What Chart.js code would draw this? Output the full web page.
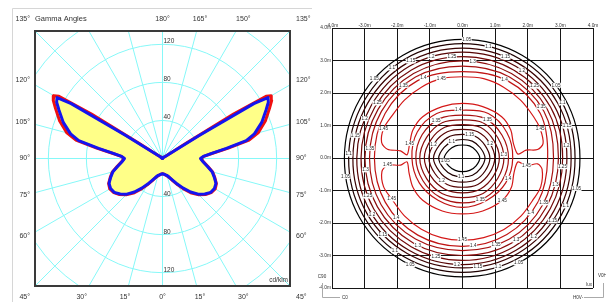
<!DOCTYPE html>
<html>
<head>
<meta charset="utf-8">
<title>Photometric diagrams</title>
<script src="https://cdn.jsdelivr.net/npm/chart.js@4.4.1/dist/chart.umd.min.js"></script>
<style>
  html, body { margin: 0; padding: 0; background: #fff; }
  #wrap { position: relative; width: 606px; height: 302px; overflow: hidden; }
  #polar { position: absolute; left: 0; top: 0; width: 312px; height: 302px; }
  #isolux { position: absolute; left: 312px; top: 0; width: 294px; height: 302px; }
</style>
</head>
<body>
<div id="wrap">
  <canvas id="polar" width="312" height="302"></canvas>
  <canvas id="isolux" width="294" height="302"></canvas>
</div>
<script>
const FONT = '"Liberation Sans", Arial, sans-serif';
Chart.defaults.font.family = FONT;

// ---------- left: intensity distribution (cd/klm) ----------
const gammaDeg = [0, 5, 10, 15, 20, 25, 30, 35, 40, 45, 50, 55, 60, 65, 70, 75, 80, 85, 90,
  93, 96, 99, 102, 105, 110, 115, 118, 120, 121, 122, 123, 125, 130, 140, 150, 165, 180];
const planeC0C180 = [16, 16.5, 17.5, 19, 21.5, 26, 32, 39.5, 47.5, 54, 59, 62.5, 64, 62.5, 58.5, 54.5, 48.5, 43.5, 40.5,
  43.5, 53, 70, 93, 104, 115, 124, 130, 132, 127, 88, 30, 7, 3, 1.5, 0.8, 0.3, 0];
const planeC90C270 = [16, 16.5, 17.5, 18.5, 21, 25, 31, 38, 46, 53, 58, 62, 63, 62, 58, 54, 48, 43, 40,
  43, 52, 68, 90, 100, 111, 120, 126, 128, 112, 45, 12, 4, 2, 1, 0.5, 0.2, 0];
const ringValues = [40, 80, 120, 160];
const ringLabelValues = [40, 80, 120];
const sideGammaLabels = [120, 105, 90, 75, 60];
const topGammaLabels = [180, 165, 150];
const bottomGammaLabels = [-30, -15, 0, 15, 30];

// gamma measured from nadir; right half is the 0 side, left half mirrored
function planeToXY(values) {
  const pts = [];
  for (let i = gammaDeg.length - 1; i >= 0; i--) {
    const g = gammaDeg[i] * Math.PI / 180;
    pts.push({x: -values[i] * Math.sin(g), y: -values[i] * Math.cos(g)});
  }
  for (let i = 1; i < gammaDeg.length; i++) {
    const g = gammaDeg[i] * Math.PI / 180;
    pts.push({x: values[i] * Math.sin(g), y: -values[i] * Math.cos(g)});
  }
  return pts;
}

const polarGrid = {
  id: 'polarGrid',
  beforeDatasetsDraw(chart) {
    const {ctx, chartArea: a, scales: {x, y}} = chart;
    const cx = x.getPixelForValue(0), cy = y.getPixelForValue(0);
    ctx.save();
    ctx.beginPath();
    ctx.rect(a.left, a.top, a.right - a.left, a.bottom - a.top);
    ctx.clip();
    ctx.strokeStyle = '#86f8f8';
    ctx.lineWidth = 1;
    ringValues.forEach(v => {
      ctx.beginPath();
      ctx.arc(cx, cy, x.getPixelForValue(v) - cx, 0, Math.PI * 2);
      ctx.stroke();
    });
    for (let g = 0; g < 360; g += 15) {
      const t = g * Math.PI / 180;
      ctx.beginPath();
      ctx.moveTo(cx, cy);
      ctx.lineTo(x.getPixelForValue(300 * Math.sin(t)), y.getPixelForValue(-300 * Math.cos(t)));
      ctx.stroke();
    }
    ctx.restore();
  },
  afterDatasetsDraw(chart) {
    const {ctx, chartArea: a, scales: {x, y}} = chart;
    const cx = x.getPixelForValue(0), cy = y.getPixelForValue(0);
    const deg = '\u00b0';
    ctx.save();
    // panel border
    ctx.strokeStyle = '#d6d6d6';
    ctx.lineWidth = 1;
    ctx.beginPath();
    ctx.moveTo(12.5, chart.height);
    ctx.lineTo(12.5, 8.5);
    ctx.lineTo(chart.width, 8.5);
    ctx.stroke();
    // plot frame
    ctx.strokeStyle = '#3a3a3a';
    ctx.lineWidth = 2;
    ctx.strokeRect(a.left, a.top, a.right - a.left, a.bottom - a.top);

    ctx.fillStyle = '#333';
    ctx.font = '6.5px ' + FONT;
    ctx.textAlign = 'left';
    ctx.textBaseline = 'alphabetic';
    ringLabelValues.forEach(v => {
      ctx.fillText(String(v), cx + 1, y.getPixelForValue(v) - 1);
      ctx.fillText(String(v), cx + 1, y.getPixelForValue(-v) - 1);
    });

    ctx.font = '7px ' + FONT;
    ctx.textBaseline = 'middle';
    const topY = a.top - 12, botY = a.bottom + 11;
    sideGammaLabels.forEach(g => {
      const py = cy - 135 * Math.tan((g - 90) * Math.PI / 180);
      ctx.textAlign = 'right';
      ctx.fillText(g + deg, a.left - 5, py);
      ctx.textAlign = 'left';
      ctx.fillText(g + deg, a.right + 6, py);
    });
    ctx.textAlign = 'right';
    ctx.fillText('135' + deg, a.left - 5, topY);
    ctx.fillText('45' + deg, a.left - 5, botY);
    ctx.textAlign = 'left';
    ctx.fillText('135' + deg, a.right + 6, topY);
    ctx.fillText('45' + deg, a.right + 6, botY);
    ctx.textAlign = 'center';
    topGammaLabels.forEach(g => {
      ctx.fillText(g + deg, cx + 140 * Math.tan((180 - g) * Math.PI / 180), topY);
    });
    bottomGammaLabels.forEach(g => {
      ctx.fillText(Math.abs(g) + deg, cx + 140 * Math.tan(g * Math.PI / 180), botY);
    });
    ctx.textAlign = 'left';
    ctx.font = '7.5px ' + FONT;
    ctx.fillText('Gamma Angles', a.left, topY);
    ctx.textAlign = 'right';
    ctx.font = '6.5px ' + FONT;
    ctx.fillText('cd/klm', a.right - 2, a.bottom - 6);
    ctx.restore();
  }
};

new Chart(document.getElementById('polar'), {
  type: 'line',
  data: {
    datasets: [
      {
        label: 'C90-C270',
        data: planeToXY(planeC90C270),
        borderColor: '#1414f0',
        borderWidth: 3,
        pointRadius: 0,
        tension: 0,
        borderJoinStyle: 'round',
        fill: false
      },
      {
        label: 'C0-C180',
        data: planeToXY(planeC0C180),
        borderColor: '#f01010',
        borderWidth: 3,
        pointRadius: 0,
        tension: 0,
        borderJoinStyle: 'round',
        fill: 'shape',
        backgroundColor: '#ffff88'
      }
    ]
  },
  options: {
    responsive: false,
    animation: false,
    events: [],
    layout: {padding: {left: 35, right: 22, top: 31, bottom: 16}},
    scales: {
      x: {type: 'linear', min: -134, max: 134, display: false},
      y: {type: 'linear', min: -134, max: 134, display: false}
    },
    plugins: {legend: {display: false}, tooltip: {enabled: false}}
  },
  plugins: [polarGrid]
});

// ---------- right: contour diagram, metres ----------
const contourLevels = ['1.05', '1.1', '1.15', '1.2', '1.25', '1.3', '1.35', '1.4', '1.45'];
const contourColors = ['#000000', '#1e0000', '#3a0202', '#560404', '#720808', '#8c0c0c', '#a81010', '#c01414', '#d41818'];
const axisTicks = [-4, -3, -2, -1, 0, 1, 2, 3, 4];
const sampleAngles = [0, 30, 60, 90, 120, 150, 180, 210, 240, 270, 300, 330];
// outer rings, 1.05 .. 1.4
const outerRadii = [
  [3.60, 3.63, 3.65, 3.65, 3.65, 3.63, 3.62, 3.65, 3.66, 3.66, 3.66, 3.64],
  [3.45, 3.50, 3.52, 3.52, 3.52, 3.49, 3.49, 3.52, 3.53, 3.52, 3.53, 3.50],
  [3.33, 3.37, 3.38, 3.38, 3.38, 3.36, 3.36, 3.39, 3.39, 3.38, 3.39, 3.37],
  [3.20, 3.24, 3.26, 3.26, 3.26, 3.23, 3.24, 3.27, 3.28, 3.28, 3.28, 3.24],
  [3.07, 3.12, 3.13, 3.12, 3.13, 3.11, 3.11, 3.14, 3.15, 3.15, 3.15, 3.11],
  [2.94, 3.00, 3.00, 2.99, 3.00, 2.99, 2.99, 3.01, 3.02, 3.00, 3.02, 2.98],
  [2.79, 2.88, 2.88, 2.83, 2.88, 2.87, 2.85, 2.88, 2.88, 2.85, 2.88, 2.85],
  [2.61, 2.75, 2.75, 2.66, 2.75, 2.74, 2.70, 2.73, 2.74, 2.72, 2.72, 2.68]
];
// central nest, 1.05 .. 1.4
const innerRadii = [
  [0.53, 0.47, 0.43, 0.40, 0.43, 0.48, 0.56, 0.49, 0.44, 0.42, 0.44, 0.48],
  [0.69, 0.63, 0.60, 0.57, 0.60, 0.65, 0.73, 0.66, 0.61, 0.58, 0.61, 0.64],
  [0.84, 0.79, 0.77, 0.73, 0.77, 0.81, 0.89, 0.82, 0.78, 0.74, 0.78, 0.80],
  [0.99, 0.95, 0.93, 0.88, 0.93, 0.97, 1.03, 0.97, 0.94, 0.90, 0.94, 0.95],
  [1.13, 1.10, 1.09, 1.03, 1.09, 1.12, 1.17, 1.12, 1.10, 1.07, 1.10, 1.10],
  [1.27, 1.25, 1.25, 1.17, 1.25, 1.27, 1.31, 1.27, 1.26, 1.22, 1.26, 1.25],
  [1.41, 1.40, 1.40, 1.32, 1.40, 1.43, 1.43, 1.40, 1.39, 1.38, 1.40, 1.40],
  [1.54, 1.57, 1.58, 1.47, 1.58, 1.60, 1.55, 1.53, 1.50, 1.52, 1.50, 1.53]
];
// 1.45 crescents (upper / lower)
const upper145X = [-1.70, -1.90, -2.30, -2.48, -2.42, -2.18, -1.78, -1.26, -0.65, 0, 0.65, 1.26, 1.78, 2.18, 2.38, 2.47, 2.30, 1.95, 1.70,
  1.56, 1.48, 1.20, 0.62, 0, -0.62, -1.22, -1.52, -1.62];
const upper145Y = [0.10, 0.22, 0.27, 0.48, 0.90, 1.27, 1.78, 2.18, 2.44, 2.50, 2.44, 2.18, 1.78, 1.27, 0.90, 0.45, 0.26, 0.24, 0.12,
  0.45, 0.86, 1.27, 1.58, 1.68, 1.58, 1.27, 0.86, 0.45];
const lower145X = [-1.70, -1.90, -2.30, -2.47, -2.42, -2.17, -1.78, -1.26, -0.65, 0, 0.65, 1.27, 1.79, 2.18, 2.40, 2.44, 2.30, 1.96, 1.70,
  1.58, 1.50, 1.22, 0.62, 0, -0.62, -1.22, -1.52, -1.64];
const lower145Y = [-0.12, -0.22, -0.22, -0.42, -0.88, -1.26, -1.78, -2.19, -2.45, -2.53, -2.45, -2.20, -1.79, -1.26, -0.88, -0.35, -0.18, -0.24, -0.12,
  -0.45, -0.90, -1.30, -1.63, -1.72, -1.63, -1.30, -0.90, -0.45];
// where the level values are written: [level index, angle]
const outerTagSpots = [[0, 88], [0, 138], [0, 189], [0, 244], [0, 298], [0, 345], [0, 38],
  [1, 77], [1, 128], [1, 178], [1, 234], [1, 288], [1, 335], [1, 29],
  [2, 67], [2, 118], [2, 168], [2, 224], [2, 278], [2, 325], [2, 17],
  [3, 56], [3, 107], [3, 158], [3, 212], [3, 267], [3, 312], [3, 7],
  [4, 96], [4, 147], [4, 202], [4, 255], [4, 355], [4, 45],
  [5, 84], [5, 187], [5, 243], [5, 303], [5, 344],
  [6, 129], [6, 174], [6, 291], [6, 331], [6, 33],
  [7, 116], [7, 62], [7, 222], [7, 277], [7, 321]];
const innerTagSpots = [[0, 190], [1, 123], [1, 266], [2, 73], [3, 155], [3, 28], [3, 228],
  [5, 4], [6, 125], [6, 57], [6, 293], [7, 95], [7, 336]];
const upperTagPoints = [4, 8, 14, 27];
const lowerTagPoints = [2, 5, 9, 17, 21];

function ringPoints(radii) {
  return radii.map((r, i) => {
    const t = sampleAngles[i] * Math.PI / 180;
    return {x: r * Math.cos(t), y: r * Math.sin(t)};
  });
}
function radiusAt(radii, angle) {
  const step = 360 / radii.length;
  const i = Math.floor(angle / step) % radii.length;
  const f = (angle - i * step) / step;
  return radii[i] * (1 - f) + radii[(i + 1) % radii.length] * f;
}

const isoDatasets = [];
outerRadii.forEach((radii, k) => isoDatasets.push({
  label: contourLevels[k], data: ringPoints(radii), borderColor: contourColors[k], closed: true, tension: 0.35
}));
innerRadii.forEach((radii, k) => isoDatasets.push({
  label: contourLevels[k], data: ringPoints(radii), borderColor: contourColors[k], closed: true, tension: 0.35
}));
isoDatasets.push({label: '1.45', data: upper145X.map((v, i) => ({x: v, y: upper145Y[i]})), borderColor: contourColors[8], closed: true, tension: 0.3});
isoDatasets.push({label: '1.45', data: lower145X.map((v, i) => ({x: v, y: lower145Y[i]})), borderColor: contourColors[8], closed: true, tension: 0.3});
isoDatasets.forEach(ds => Object.assign(ds, {borderWidth: 1.2, pointRadius: 0, fill: false}));

const isoDecor = {
  id: 'isoDecor',
  afterDatasetsUpdate(chart) {
    // make the contour lines closed loops
    chart.data.datasets.forEach((ds, i) => {
      if (!ds.closed) return;
      const line = chart.getDatasetMeta(i).dataset;
      line._loop = true;
      line._fullLoop = true;
      line._pointsUpdated = false;
      delete line._segments;
      delete line._path;
    });
  },
  afterDatasetsDraw(chart) {
    const {ctx, chartArea: a, scales: {x, y}} = chart;
    ctx.save();
    ctx.fillStyle = '#333';
    ctx.font = '4.8px ' + FONT;
    ctx.textAlign = 'center';
    ctx.textBaseline = 'alphabetic';
    axisTicks.forEach(v => ctx.fillText(v.toFixed(1) + 'm', x.getPixelForValue(v), a.top - 1.5));
    ctx.textAlign = 'right';
    ctx.textBaseline = 'middle';
    axisTicks.forEach(v => ctx.fillText(v.toFixed(1) + 'm', a.left - 1, y.getPixelForValue(v)));

    ctx.font = '4.6px ' + FONT;
    ctx.textAlign = 'center';
    const tag = (text, vx, vy) => {
      const px = x.getPixelForValue(vx), py = y.getPixelForValue(vy);
      const w = ctx.measureText(text).width;
      ctx.fillStyle = '#fff';
      ctx.fillRect(px - w / 2 - 0.5, py - 2.5, w + 1, 5);
      ctx.fillStyle = '#222';
      ctx.fillText(text, px, py);
    };
    const ringTag = (radii, k, angle) => {
      const r = radiusAt(radii, angle), t = angle * Math.PI / 180;
      tag(contourLevels[k], r * Math.cos(t), r * Math.sin(t));
    };
    outerTagSpots.forEach(([k, ang]) => ringTag(outerRadii[k], k, ang));
    innerTagSpots.forEach(([k, ang]) => ringTag(innerRadii[k], k, ang));
    upperTagPoints.forEach(i => tag(contourLevels[8], upper145X[i], upper145Y[i]));
    lowerTagPoints.forEach(i => tag(contourLevels[8], lower145X[i], lower145Y[i]));

    // plane markers
    ctx.strokeStyle = '#aaa';
    ctx.lineWidth = 1;
    ctx.beginPath();
    ctx.moveTo(a.left - 9.5, a.bottom - 5);
    ctx.lineTo(a.left - 9.5, a.bottom + 9.5);
    ctx.lineTo(a.left + 8, a.bottom + 9.5);
    ctx.moveTo(a.right - 9, a.bottom + 9.5);
    ctx.lineTo(a.right + 10.5, a.bottom + 9.5);
    ctx.lineTo(a.right + 10.5, a.bottom - 5);
    ctx.stroke();
    ctx.fillStyle = '#333';
    ctx.font = '4.6px ' + FONT;
    ctx.textAlign = 'center';
    ctx.fillText('C90', a.left - 10, a.bottom - 11);
    ctx.textAlign = 'left';
    ctx.fillText('C0', a.left + 10, a.bottom + 10);
    ctx.fillText('H0V-', a.right - 20, a.bottom + 10);
    ctx.fillText('V0H', a.right + 5, a.bottom - 12);
    ctx.textAlign = 'right';
    ctx.fillText('lux', a.right - 1, a.bottom - 3);
    ctx.restore();
  }
};

new Chart(document.getElementById('isolux'), {
  type: 'line',
  data: {datasets: isoDatasets},
  options: {
    responsive: false,
    animation: false,
    events: [],
    layout: {padding: {left: 20, right: 13, top: 28, bottom: 14}},
    scales: {
      x: {
        type: 'linear', min: -4, max: 4,
        ticks: {display: false, stepSize: 1},
        grid: {color: '#161616', lineWidth: 1, drawTicks: false},
        border: {display: false}
      },
      y: {
        type: 'linear', min: -4, max: 4,
        ticks: {display: false, stepSize: 1},
        grid: {color: '#161616', lineWidth: 1, drawTicks: false},
        border: {display: false}
      }
    },
    plugins: {legend: {display: false}, tooltip: {enabled: false}}
  },
  plugins: [isoDecor]
});
</script>
</body>
</html>
